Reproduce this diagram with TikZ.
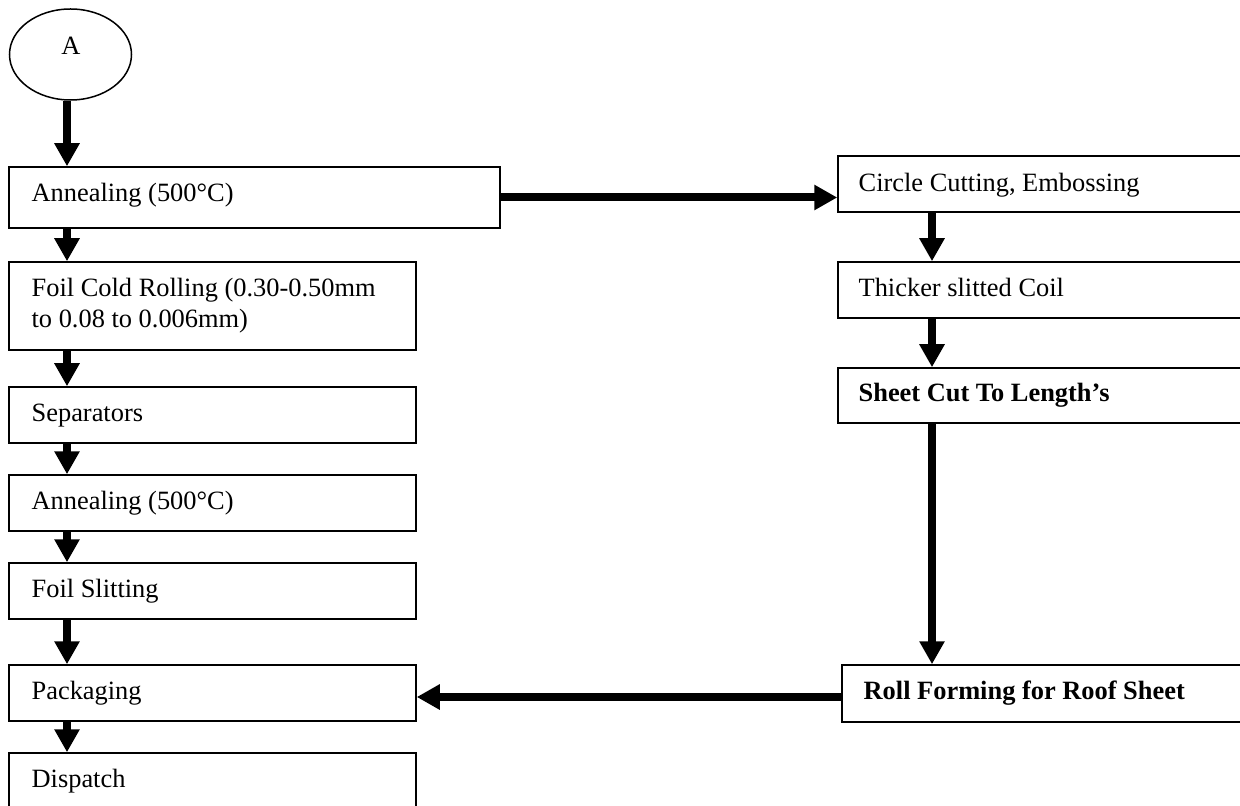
\documentclass[tikz,border=0pt]{standalone}
\usepackage{fontspec}
\setmainfont{Liberation Serif}
\usetikzlibrary{arrows.meta,shapes.geometric,fit,calc}
\begin{document}
\begin{tikzpicture}[x=0.5pt,y=-0.5pt,
  box/.style={draw, line width=0.75pt, inner sep=0pt, rectangle},
  lbl/.style={anchor=base west, inner sep=0pt, font=\fontsize{13.2pt}{15.5pt}\selectfont},
  flow/.style={line width=4pt, -{Triangle[length=11.5pt,width=12pt]}}]
\useasboundingbox (0,0) rectangle (1240,806);

% start connector
\node[draw, ellipse, line width=0.75pt, minimum width=61pt, minimum height=45.5pt, inner sep=0pt] (st) at (70.5,54.5) {};
\node[lbl, anchor=base] (ta) at (71,55) {A};

% left column
\node[box, fit={(9,167) (500,228)}] (b1) {};
\node[box, fit={(9,262) (416,350)}] (b2) {};
\node[box, fit={(9,387) (416,443)}] (b3) {};
\node[box, fit={(9,475) (416,531)}] (b4) {};
\node[box, fit={(9,563) (416,619)}] (b5) {};
\node[box, fit={(9,665) (416,721)}] (b6) {};
\node[box, fit={(9,753) (416,840)}] (b7) {};

\node[lbl] (t1) at ($(b1.north west)+(23,35)$) {Annealing (500°C)};
\node[lbl] (t2) at ($(b2.north west)+(23,35)$) {\begin{tabular}[t]{@{}l@{}}Foil Cold Rolling (0.30-0.50mm\\to 0.08 to 0.006mm)\end{tabular}};
\node[lbl] (t3) at ($(b3.north west)+(23,35)$) {Separators};
\node[lbl] (t4) at ($(b4.north west)+(23,35)$) {Annealing (500°C)};
\node[lbl] (t5) at ($(b5.north west)+(23,35)$) {Foil Slitting};
\node[lbl] (t6) at ($(b6.north west)+(23,35)$) {Packaging};
\node[lbl] (t7) at ($(b7.north west)+(23,35)$) {Dispatch};

% right column
\node[box, fit={(838,156) (1250,212)}] (c1) {};
\node[box, fit={(838,262) (1250,318)}] (c2) {};
\node[box, fit={(838,368) (1250,423)}] (c3) {};
\node[box, fit={(842,665) (1250,722)}] (c4) {};

\node[lbl] (u1) at ($(c1.north west)+(21,36)$) {Circle Cutting, Embossing};
\node[lbl] (u2) at ($(c2.north west)+(21,35)$) {Thicker slitted Coil};
\node[lbl] (u3) at ($(c3.north west)+(21,34)$) {\bfseries Sheet Cut To Length’s};
\node[lbl] (u4) at ($(c4.north west)+(22,35)$) {\bfseries Roll Forming for Roof Sheet};

% connectors
\coordinate (lx) at (67,0);
\coordinate (rx) at (932,0);
\draw[flow] (st.south -| lx) -- (b1.north -| lx);
\draw[flow] (b1.south -| lx) -- (b2.north -| lx);
\draw[flow] (b2.south -| lx) -- (b3.north -| lx);
\draw[flow] (b3.south -| lx) -- (b4.north -| lx);
\draw[flow] (b4.south -| lx) -- (b5.north -| lx);
\draw[flow] (b5.south -| lx) -- (b6.north -| lx);
\draw[flow] (b6.south -| lx) -- (b7.north -| lx);

\draw[flow] (b1.east) -- (b1.east -| c1.west);
\draw[flow] (c1.south -| rx) -- (c2.north -| rx);
\draw[flow] (c2.south -| rx) -- (c3.north -| rx);
\draw[flow] (c3.south -| rx) -- (c4.north -| rx);
\draw[flow] ([yshift=-1.75pt]c4.west) -- ([yshift=-1.75pt]c4.west -| b6.east);
\end{tikzpicture}
\end{document}
